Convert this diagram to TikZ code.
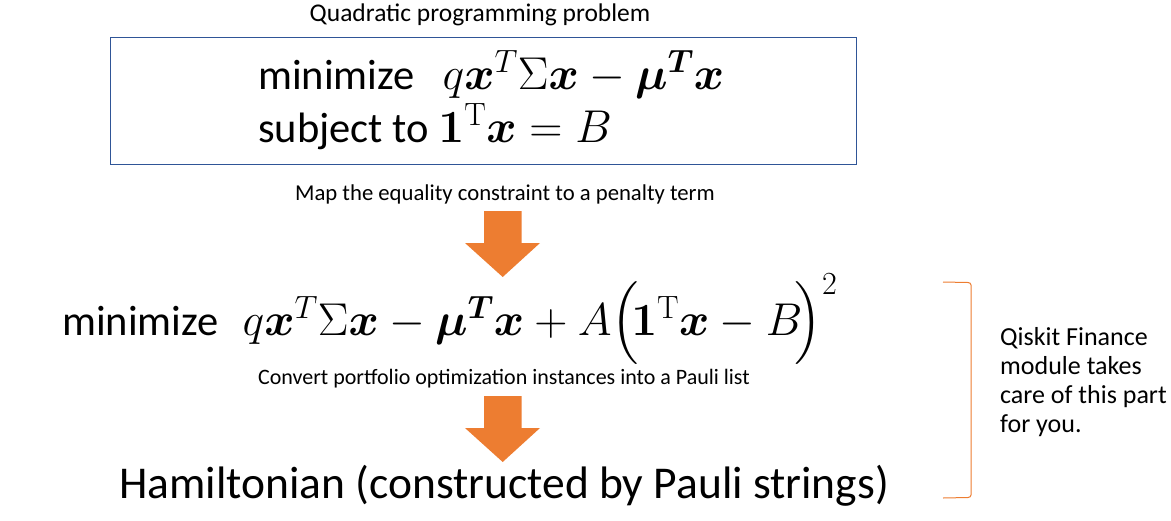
\documentclass[tikz,border=0pt]{standalone}
\usepackage{fix-cm}
\usepackage{amsmath,amssymb}
\usepackage[no-math]{fontspec}
\setmainfont{Carlito}
\definecolor{boxblue}{HTML}{2F5597}
\definecolor{orng}{HTML}{ED7D31}
\tikzset{
  bigtxt/.style={inner sep=0pt, font=\fontsize{42.5}{50}\selectfont},
  smalltxt/.style={inner sep=0pt, font=\fontsize{22.7}{27}\selectfont},
  sidetxt/.style={inner sep=0pt, align=left, font=\fontsize{26}{29.2}\selectfont},
  bigarrow/.style={fill=orng, draw=none}
}
\newcommand{\bx}{\boldsymbol{x}}
\newcommand{\mth}[1]{{\fontsize{46}{52}\selectfont$#1$}}
\begin{document}
\begin{tikzpicture}[x=1pt,y=-1pt]
\useasboundingbox (0,0) rectangle (1171,520);
% title
\node[smalltxt, anchor=base, font=\fontsize{25.5}{30}\selectfont] (title) at (480,21) {Quadratic programming problem};
% box
\draw[boxblue, line width=0.9pt] (110,37) rectangle (856,164);
\node[bigtxt, anchor=base west] (row1) at (258,89) {minimize\hspace{28pt}\mth{q\bx^{T}\Sigma\bx-\boldsymbol{\mu}^{\boldsymbol{T}}\bx}};
\node[bigtxt, anchor=base west] (row2) at (258,142) {subject to \mth{\mathbf{1}^{\mathrm{T}}\bx=B}};
% label 1
\node[smalltxt, anchor=base] (lab1) at (505,200) {Map the equality constraint to a penalty term};
% arrow 1
\fill[bigarrow] (484,211) -- (521.5,211) -- (521.5,243) -- (540,243) -- (502.7,277) -- (465,243) -- (484,243) -- cycle;
% row 3
\node[bigtxt, anchor=base west] (row3) at (62,335) {minimize\hspace{24pt}\mth{q\bx^{T}\Sigma\bx-\boldsymbol{\mu}^{\boldsymbol{T}}\bx+A\Bigl(\!\mathbf{1}^{\mathrm{T}}\bx-B\!\Bigr)^{2}}};
% label 2
\node[smalltxt, anchor=base, font=\fontsize{22}{27}\selectfont] (lab2) at (504,384) {Convert portfolio optimization instances into a Pauli list};
% arrow 2
\fill[bigarrow] (484,396) -- (521.5,396) -- (521.5,428) -- (540,428) -- (502.7,462) -- (465,428) -- (484,428) -- cycle;
% Hamiltonian
\node[bigtxt, anchor=base west, font=\fontsize{45.5}{52}\selectfont] (ham) at (119,498) {Hamiltonian (constructed by Pauli strings)};
% bracket
\draw[orng, line width=1pt] (943,282) -- (968,282.5) to[out=0,in=90] (971,285) -- (971,495) to[out=-90,in=0] (968,497.5) -- (943,498);
% side text
\node[sidetxt, anchor=north west] (side) at (1000,327) {Qiskit Finance\\module takes\\care of this part\\for you.};
\end{tikzpicture}
\end{document}
